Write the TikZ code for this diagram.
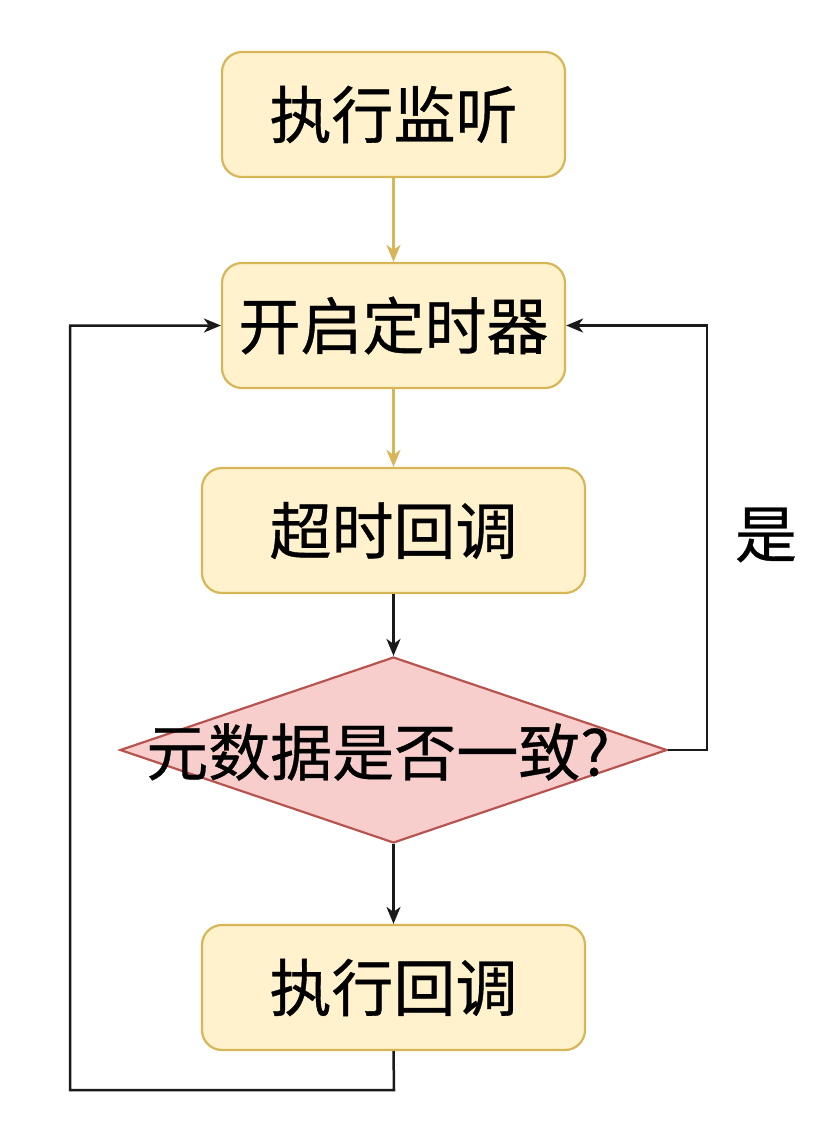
\documentclass[tikz,border=0pt]{standalone}
\usepackage{fontspec}
\setmainfont{Noto Sans CJK SC}[UprightFeatures={FakeBold=0.6}]
\usetikzlibrary{shapes.geometric,arrows.meta}
\definecolor{yfill}{HTML}{FFF2CC}
\definecolor{ydraw}{HTML}{D6B656}
\definecolor{rfill}{HTML}{F8CECC}
\definecolor{rdraw}{HTML}{B85450}
\definecolor{lineblk}{HTML}{1A1A1A}
\tikzset{
  ybox/.style={draw=ydraw, fill=yfill, line width=2.2pt, rounded corners=20pt,
    minimum height=125pt, inner sep=0pt, font=\fontsize{62}{74}\selectfont},
  tip/.style={-{Stealth[length=17pt,width=14pt,inset=5pt]}},
  yline/.style={draw=ydraw, line width=2.5pt, tip},
  bline/.style={draw=lineblk, line width=2.5pt, tip},
  lbl/.style={font=\fontsize{62}{74}\selectfont, inner sep=0pt}
}
\begin{document}
\begin{tikzpicture}[x=1pt,y=-1pt]
\useasboundingbox (0,0) rectangle (822,1138);
\node[ybox, minimum width=343pt] (b1) at (393.5,114.5) {执行监听};
\node[ybox, minimum width=343pt] (b2) at (393.5,325.5) {开启定时器};
\node[ybox, minimum width=383pt] (b3) at (393.5,530.5) {超时回调};
\node[diamond, draw=rdraw, fill=rfill, line width=2.2pt, inner sep=0pt,
      minimum width=547pt, minimum height=186pt] (dia) at (393.5,750) {};
\node[lbl] (diat) at (378,752) {元数据是否一致?};
\node[ybox, minimum width=383pt] (b4) at (393.5,987.5) {执行回调};
\node[lbl] (yes) at (766,535) {是};
\coordinate (lb) at (394,1090);
\coordinate (ll) at (70,1090);
\coordinate (rr) at (707,750);
\draw[yline] (b1.south) -- (b2.north);
\draw[yline] (b2.south) -- (b3.north);
\draw[bline] (b3.south) -- (dia.north);
\draw[bline] (dia.south) -- (b4.north);
\draw[bline] (b4.south) -- (lb) -- (ll) |- (b2.west);
\draw[bline] (dia.east) -- (rr) |- (b2.east);
\end{tikzpicture}
\end{document}
